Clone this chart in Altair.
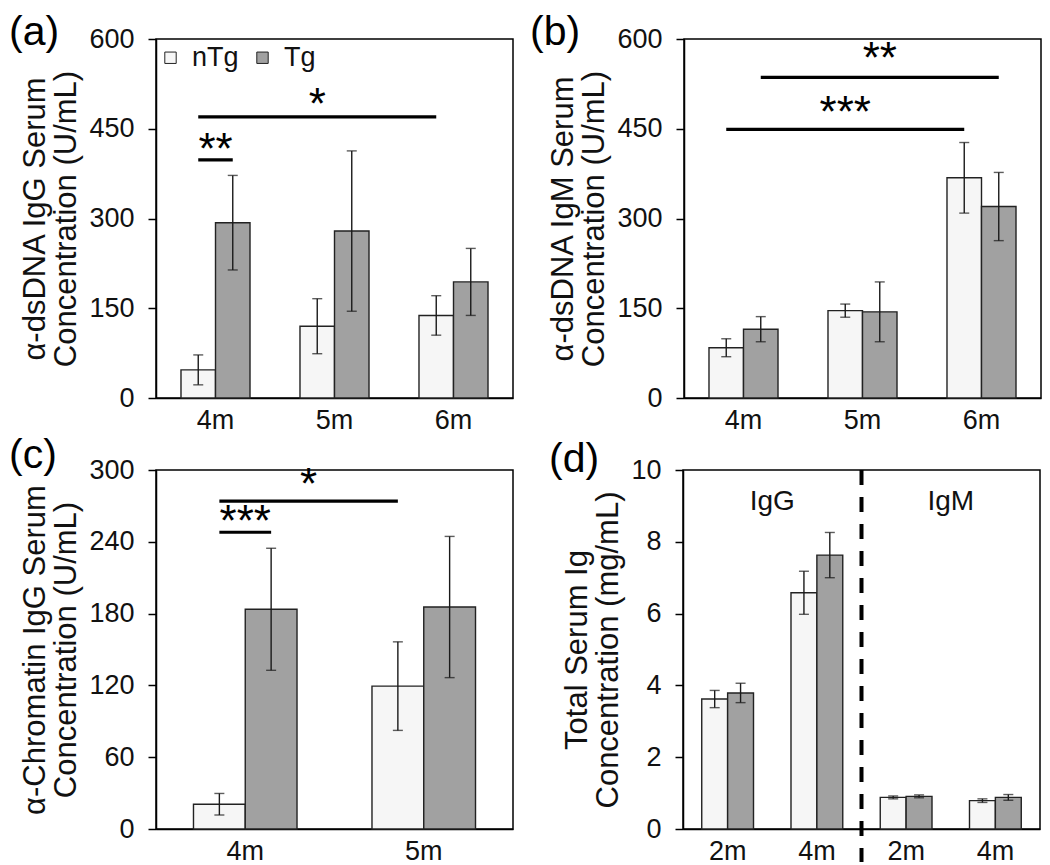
import altair as alt
import pandas as pd

FONT = "Liberation Sans"
W, H = 357, 359
PAD_IN = 0.42

groups = ["nTg", "Tg"]
colors = ["#f6f6f6", "#a1a1a1"]

# ---------------- data ----------------
# (a) anti-dsDNA IgG
a_cats = ["4m", "5m", "6m"]
a_ntg = [47, 120, 138]
a_ntg_err = [25, 46, 33]
a_tg = [293, 279, 194]
a_tg_err = [79, 134, 56]

# (b) anti-dsDNA IgM
b_cats = ["4m", "5m", "6m"]
b_ntg = [84, 146, 368]
b_ntg_err = [15, 11, 59]
b_tg = [115, 144, 320]
b_tg_err = [21, 50, 57]

# (c) anti-Chromatin IgG
c_cats = ["4m", "5m"]
c_ntg = [20.7, 119.4]
c_ntg_err = [9, 37]
c_tg = [183.6, 185.5]
c_tg_err = [51, 59]

# (d) total serum Ig
d_cats = ["IgG 2m", "IgG 4m", "IgM 2m", "IgM 4m"]
d_ntg = [3.62, 6.58, 0.88, 0.79]
d_ntg_err = [0.24, 0.60, 0.04, 0.05]
d_tg = [3.79, 7.63, 0.91, 0.88]
d_tg_err = [0.27, 0.63, 0.04, 0.08]
d_group_labels = ["IgG", "IgM"]
d_group_label_y = 9.1

# significance lines: (id, [(cat, group), (cat, group)], y)
a_sig = [(1, [("4m", "nTg"), ("4m", "Tg")], 398), (2, [("4m", "nTg"), ("6m", "nTg")], 470)]
a_lab = [("**", "4m", None, 420), ("*", "5m", "nTg", 494)]
b_sig = [(1, [("4m", "nTg"), ("6m", "nTg")], 449), (2, [("4m", "Tg"), ("6m", "Tg")], 536)]
b_lab = [("***", "5m", "nTg", 481), ("**", "5m", "Tg", 572)]
c_sig = [(1, [("4m", "nTg"), ("4m", "Tg")], 248), (2, [("4m", "nTg"), ("5m", "nTg")], 274)]
c_lab = [("***", "4m", None, 259), ("*", "4m", "nTg", 290, "half")]


def table(cats, ntg, ntg_err, tg, tg_err):
    rows = []
    for i, c in enumerate(cats):
        rows.append({"cat": c, "group": "nTg", "value": ntg[i], "lo": ntg[i] - ntg_err[i], "hi": ntg[i] + ntg_err[i]})
        rows.append({"cat": c, "group": "Tg", "value": tg[i], "lo": tg[i] - tg_err[i], "hi": tg[i] + tg_err[i]})
    return pd.DataFrame(rows)


def panel(letter, letter_x, letter_y, cats, ntg, ntg_err, tg, tg_err, ymax, yticks, ytitle,
          sig=(), labs=(), legend=False, label_expr=None, extra=()):
    df = table(cats, ntg, ntg_err, tg, tg_err)
    n = len(cats)
    xaxis_kw = dict(ticks=False, labelAngle=0, labelPadding=9, domain=True)
    if label_expr:
        xaxis_kw["labelExpr"] = label_expr

    def X():
        return alt.X("cat:N", sort=cats,
                     scale=alt.Scale(paddingInner=PAD_IN, paddingOuter=PAD_IN / 2),
                     axis=alt.Axis(**xaxis_kw), title=None)

    XO = alt.XOffset("group:N", sort=groups)
    yscale = alt.Scale(domain=[0, ymax], nice=False)

    if legend:
        leg = alt.Legend(orient="none", legendX=1, legendY=5, direction="horizontal", title=None,
                         symbolType="square", symbolSize=130, symbolStrokeColor="#222",
                         symbolStrokeWidth=1, symbolOpacity=1, labelFontSize=27, labelFont=FONT,
                         labelColor="#111", columnPadding=10, labelOffset=8)
    else:
        leg = None

    bars = alt.Chart(df).mark_bar(stroke="#222", strokeWidth=1.4, opacity=1).encode(
        x=X(), xOffset=XO,
        y=alt.Y("value:Q", scale=yscale,
                axis=alt.Axis(values=yticks, tickSize=8, labelPadding=14, grid=False),
                title=ytitle),
        color=alt.Color("group:N", sort=groups, scale=alt.Scale(domain=groups, range=colors), legend=leg),
    )
    err = alt.Chart(df).mark_rule(color="#1a1a1a", strokeWidth=1.4).encode(
        x=X(), xOffset=XO, y=alt.Y("lo:Q", scale=yscale), y2="hi:Q")
    cap_lo = alt.Chart(df).mark_tick(color="#1a1a1a", size=10, thickness=1.4, orient="horizontal").encode(
        x=X(), xOffset=XO, y=alt.Y("lo:Q", scale=yscale))
    cap_hi = alt.Chart(df).mark_tick(color="#1a1a1a", size=10, thickness=1.4, orient="horizontal").encode(
        x=X(), xOffset=XO, y=alt.Y("hi:Q", scale=yscale))
    layers = [bars, err, cap_lo, cap_hi]

    if sig:
        srows = []
        for sid, pts, yv in sig:
            for c, g in pts:
                srows.append({"sid": sid, "cat": c, "group": g, "y": yv})
        sdf = pd.DataFrame(srows)
        layers.append(alt.Chart(sdf).mark_line(color="black", strokeWidth=3.2, strokeCap="butt").encode(
            x=X(), xOffset=XO, y=alt.Y("y:Q", scale=yscale), detail="sid:N"))

    for lab in labs:
        txt, c, g, yv = lab[:4]
        dx = (W / n) / 2 if len(lab) > 4 else 0
        ldf = pd.DataFrame([{"t": txt, "cat": c, "group": g, "y": yv}])
        enc = dict(x=X(), y=alt.Y("y:Q", scale=yscale), text="t:N")
        if g is not None:
            enc["xOffset"] = XO
        layers.append(alt.Chart(ldf).mark_text(font=FONT, fontSize=44, color="black",
                                               baseline="alphabetic", dy=17, dx=dx).encode(**enc))

    layers.extend(extra)

    ldf = pd.DataFrame({"t": [letter]})
    layers.append(alt.Chart(ldf).mark_text(font=FONT, fontSize=41, color="black", align="left",
                                           baseline="middle").encode(
        text="t:N", x=alt.value(letter_x), y=alt.value(letter_y)))

    return alt.layer(*layers).properties(width=W, height=H)


# extra layers for (d): divider and group labels
div_df = pd.DataFrame({"k": ["divider"]})
divider = alt.Chart(div_df).mark_rule(color="black", strokeWidth=4, strokeDash=[15, 12]).encode(
    x=alt.value(W / 2), y=alt.value(0), y2=alt.value(H + 33))
glab_df = pd.DataFrame({"t": d_group_labels, "y": [d_group_label_y] * 2})
glab_left = alt.Chart(glab_df.iloc[[0]]).mark_text(font=FONT, fontSize=28, color="#111").encode(
    text="t:N", x=alt.value(W / 4), y=alt.Y("y:Q", scale=alt.Scale(domain=[0, 10], nice=False)))
glab_right = alt.Chart(glab_df.iloc[[1]]).mark_text(font=FONT, fontSize=28, color="#111").encode(
    text="t:N", x=alt.value(3 * W / 4), y=alt.Y("y:Q", scale=alt.Scale(domain=[0, 10], nice=False)))

pa = panel("(a)", -147, -6, a_cats, a_ntg, a_ntg_err, a_tg, a_tg_err, 600, [0, 150, 300, 450, 600],
           ["α-dsDNA IgG Serum", "Concentration (U/mL)"], sig=a_sig, labs=a_lab, legend=True)
pb = panel("(b)", -154, -6, b_cats, b_ntg, b_ntg_err, b_tg, b_tg_err, 600, [0, 150, 300, 450, 600],
           ["α-dsDNA IgM Serum", "Concentration (U/mL)"], sig=b_sig, labs=b_lab)
pc = panel("(c)", -147, -14, c_cats, c_ntg, c_ntg_err, c_tg, c_tg_err, 300, [0, 60, 120, 180, 240, 300],
           ["α-Chromatin IgG Serum", "Concentration (U/mL)"], sig=c_sig, labs=c_lab)
pd_ = panel("(d)", -134, -10, d_cats, d_ntg, d_ntg_err, d_tg, d_tg_err, 10, [0, 2, 4, 6, 8, 10],
            ["Total Serum Ig", "Concentration  (mg/mL)"],
            label_expr="split(datum.label, ' ')[1]", extra=[divider, glab_left, glab_right])

row1 = alt.hconcat(pa, pb, spacing=15).resolve_scale(color="independent", xOffset="independent")
row2 = alt.hconcat(pc, pd_, spacing=34).resolve_scale(color="independent", xOffset="independent")

chart = alt.vconcat(row1, row2, spacing=0).resolve_scale(
    color="independent", xOffset="independent"
).properties(padding={"top": 3, "left": 0, "right": 0, "bottom": 0}, background="white").configure_view(
    stroke="black", strokeWidth=1.5
).configure_axis(
    labelFont=FONT, titleFont=FONT, labelFontSize=27, titleFontSize=31, titleFontWeight="normal",
    labelColor="#111", titleColor="#111", domainColor="black", tickColor="black",
    domainWidth=1.5, tickWidth=1.5, titlePadding=6, titleLineHeight=31,
)

chart.save("out.html", embed_options={"renderer": "svg", "actions": False})
